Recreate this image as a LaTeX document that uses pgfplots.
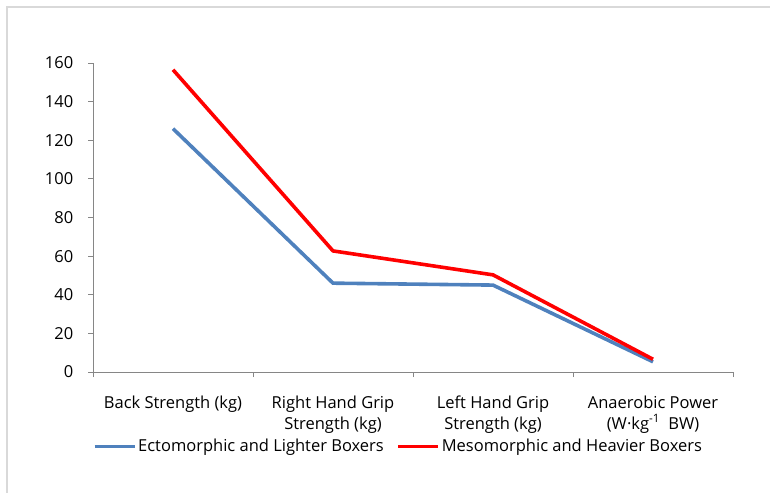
\documentclass[border=0pt]{standalone}
\usepackage{pgfplots}
\pgfplotsset{compat=1.18}
\usepackage{fontspec}
\setmainfont{Open Sans}
\definecolor{exblue}{HTML}{4F81BD}
\definecolor{axgray}{HTML}{868686}
\definecolor{framegray}{HTML}{D9D9D9}
\newcommand{\cf}{\fontsize{16.5bp}{21bp}\selectfont}
\begin{document}
\cf
\begin{tikzpicture}
\path[use as bounding box] (0,0) rectangle (770bp,493bp);
\draw[framegray, line width=2bp] (7bp,0) -- (7bp,486bp) -- (770bp,486bp);
\begin{axis}[
  at={(93bp,121bp)}, anchor=south west,
  scale only axis, width=640bp, height=309bp,
  xmin=-0.5, xmax=3.5, ymin=0, ymax=160,
  ytick={0,20,...,160},
  axis x line*=bottom, axis y line*=left,
  axis line style={draw=axgray, line width=0.9bp, -},
  tick align=outside, major tick length=5bp,
  tick style={draw=axgray, line width=0.9bp},
  xtick={-0.5,0.5,1.5,2.5,3.5}, xticklabels={},
  extra x ticks={0,1,2,3},
  extra x tick labels={Back Strength (kg), {Right Hand Grip\\Strength (kg)}, {Left Hand Grip\\Strength (kg)}, {Anaerobic Power\\(W·kg\textsuperscript{-1}\ \ BW)}},
  extra x tick style={major tick length=0pt, tick label style={align=center, yshift=-18bp}},
  /pgf/number format/assume math mode=true,
  tick label style={font=\cf, text=black},
  yticklabel style={xshift=-9bp},
  legend style={draw=none, fill=none, at={(0,-0.24)}, anchor=west,
    legend columns=2, font=\cf, inner sep=0pt,
    /tikz/every even column/.append style={column sep=11bp},
    nodes={inner sep=2bp}},
  legend image code/.code={\draw[#1, line width=3bp] (0bp,0bp) -- (40bp,0bp);},
  legend cell align=left,
  clip=false,
]
\addplot[exblue, line width=3.6bp] coordinates {(0,126) (1,46) (2,45) (3,5.3)};
\addlegendentry{Ectomorphic and Lighter Boxers}
\addplot[red, line width=3.6bp] coordinates {(0,156.5) (1,62.7) (2,50.3) (3,6.6)};
\addlegendentry{Mesomorphic and Heavier Boxers}
\end{axis}
\end{tikzpicture}
\end{document}
